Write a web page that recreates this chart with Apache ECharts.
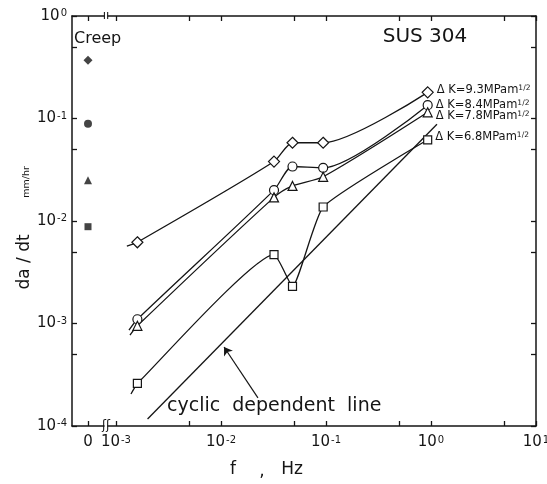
<!DOCTYPE html>
<html>
<head>
<meta charset="utf-8">
<script src="https://cdn.jsdelivr.net/npm/echarts@6/dist/echarts.min.js"></script>
<style>
html, body { margin: 0; padding: 0; background: #fff; }
#chart { width: 547px; height: 484px; }
</style>
</head>
<body>
<div id="chart"></div>
<script>
// test frequencies (Hz) of the cyclic tests
var freqs = [0.0016, 0.032, 0.048, 0.094, 0.93];
// da/dt (mm/hr) for each dK level
var dk93 = [0.0062, 0.038, 0.058, 0.058, 0.18];
var dk84 = [0.0011, 0.020, 0.034, 0.033, 0.135];
var dk78 = [0.00095, 0.017, 0.022, 0.027, 0.115];
var dk68 = [0.00026, 0.0047, 0.0023, 0.0137, 0.062];
var dkNames = ['9.3', '8.4', '7.8', '6.8'];
// where each hand drawn curve starts (left end)
var tailF = [0.00127, 0.00133, 0.00136, 0.00139];
var tailY = [0.0057, 0.00086, 0.00077, 0.000205];
// creep (f = 0) rates, same order as dkNames
var creepY = [0.37, 0.089, 0.025, 0.0088];
// cyclic dependent line end points and its arrow
var cyclicF = [0.002, 1.14];
var cyclicY = [0.000117, 0.088];
var arrowF = [0.0225, 0.0107];
var arrowY = [0.000188, 0.00059];
// ticks
var xTicks = [1e-3, 5e-3, 1e-2, 5e-2, 0.1, 0.5, 1, 5, 10];
var xLabels = [1e-3, 1e-2, 0.1, 1, 10];
var yTicks = [1e-4, 5e-4, 1e-3, 5e-3, 1e-2, 5e-2, 0.1, 0.5, 1];
var yLabels = [1e-4, 1e-3, 1e-2, 0.1, 1];

var ink = '#151515';
var font = 'DejaVu Sans';

var myChart = echarts.init(document.getElementById('chart'));

function powLabel(v) {
    var e = Math.round(Math.log10(v));
    return '{b|10}{s|' + e + '}';
}
var powRich = {
    b: { fontSize: 15, fontFamily: font, color: ink },
    s: { fontSize: 10, fontFamily: font, color: ink, verticalAlign: 'top', padding: [0, 0, 0, 1] }
};

function line() {
    return { show: true, onZero: false, lineStyle: { color: ink, width: 1.5 } };
}

function tick(vals) {
    return { show: true, inside: true, length: 5, lineStyle: { color: ink, width: 1.3 }, customValues: vals };
}

function curve(idx, ys, sym, size, offset, smooth) {
    var data = [{ value: [tailF[idx], tailY[idx]], symbol: 'none' }];
    for (var i = 0; i < freqs.length; i++) {
        data.push([freqs[i], ys[i]]);
    }
    var last = data[data.length - 1];
    data[data.length - 1] = {
        value: last,
        label: {
            show: true,
            position: 'right',
            distance: 3,
            offset: offset,
            formatter: '{t|\u0394 K=' + dkNames[idx] + 'MPam}{s|1/2}',
            rich: {
                t: { fontSize: 11.5, fontFamily: font, color: ink },
                s: { fontSize: 7.5, fontFamily: font, color: ink, verticalAlign: 'top' }
            }
        }
    };
    return {
        type: 'line',
        xAxisIndex: 2,
        yAxisIndex: 1,
        smooth: smooth,
        data: data,
        symbol: sym,
        symbolSize: size,
        showAllSymbol: true,
        itemStyle: { color: '#fff', borderColor: ink, borderWidth: 1.2 },
        lineStyle: { color: ink, width: 1.3 },
        z: 3
    };
}

var creepSym = ['diamond', 'circle', 'triangle', 'rect'];
var creepSize = [9, 8, 8, 7];
var creepData = creepY.map(function (y, i) {
    return { value: [0, y], symbol: creepSym[i], symbolSize: creepSize[i] };
});

var option = {
    animation: false,
    backgroundColor: '#fff',
    grid: [
        { left: 72, width: 32, top: 16, bottom: 58, outerBoundsMode: 'none' },
        { left: 108, right: 11, top: 16, bottom: 58, outerBoundsMode: 'none' }
    ],
    xAxis: [
        {
            gridIndex: 0, type: 'value', min: -1, max: 1, position: 'bottom',
            axisLine: line(), axisTick: tick([0]), splitLine: { show: false },
            axisLabel: { customValues: [0], formatter: '0', fontSize: 15, fontFamily: font, color: ink, margin: 9 }
        },
        {
            gridIndex: 0, type: 'value', min: -1, max: 1, position: 'top',
            axisLine: line(), axisTick: tick([0]), splitLine: { show: false }, axisLabel: { show: false }
        },
        {
            gridIndex: 1, type: 'log', logBase: 10, min: 0.00084, max: 10, position: 'bottom',
            axisLine: line(), axisTick: tick(xTicks), splitLine: { show: false },
            axisLabel: { customValues: xLabels, formatter: powLabel, rich: powRich, margin: 9 }
        },
        {
            gridIndex: 1, type: 'log', logBase: 10, min: 0.00084, max: 10, position: 'top',
            axisLine: line(), axisTick: tick(xTicks), splitLine: { show: false }, axisLabel: { show: false }
        }
    ],
    yAxis: [
        {
            gridIndex: 0, type: 'log', logBase: 10, min: 1e-4, max: 1, position: 'left',
            axisLine: line(), axisTick: tick(yTicks), splitLine: { show: false },
            axisLabel: { customValues: yLabels, formatter: powLabel, rich: powRich, margin: 5 }
        },
        {
            gridIndex: 1, type: 'log', logBase: 10, min: 1e-4, max: 1, position: 'right',
            axisLine: line(), axisTick: tick(yTicks), splitLine: { show: false }, axisLabel: { show: false }
        }
    ],
    series: [
        curve(0, dk93, 'diamond', 11, [0, -2], 0.25),
        curve(1, dk84, 'circle', 9, [0, 0], 0.25),
        curve(2, dk78, 'triangle', 9, [0, 4], 0.25),
        curve(3, dk68, 'rect', 8, [0, -3], 0.15),
        {
            type: 'line', xAxisIndex: 2, yAxisIndex: 1, symbol: 'none',
            data: [[cyclicF[0], cyclicY[0]], [cyclicF[1], cyclicY[1]]],
            lineStyle: { color: ink, width: 1.3 }
        },
        {
            type: 'lines', coordinateSystem: 'cartesian2d', xAxisIndex: 2, yAxisIndex: 1,
            symbol: ['none', 'arrow'], symbolSize: 8,
            data: [{ coords: [[arrowF[0], arrowY[0]], [arrowF[1], arrowY[1]]] }],
            lineStyle: { color: ink, width: 1.2, opacity: 1 }
        },
        {
            type: 'scatter', xAxisIndex: 0, yAxisIndex: 0,
            data: creepData, itemStyle: { color: ink }
        }
    ],
    graphic: [
        { type: 'text', left: 74, top: 31, style: { text: 'Creep', fontSize: 16, fontFamily: font, fill: ink } },
        { type: 'text', x: 425, y: 37, style: { text: 'SUS 304', fontSize: 20, fontFamily: font, fill: ink, align: 'center', verticalAlign: 'middle' } },
        { type: 'text', x: 167, y: 406, style: { text: 'cyclic  dependent  line', fontSize: 19, fontFamily: font, fill: ink, verticalAlign: 'middle' } },
        { type: 'text', x: 25, y: 262, rotation: Math.PI / 2, style: { text: 'da / dt', fontSize: 17, fontFamily: font, fill: ink, align: 'center', verticalAlign: 'middle' } },
        { type: 'text', x: 27, y: 182, rotation: Math.PI / 2, style: { text: 'mm/hr', fontSize: 9.5, fontFamily: font, fill: ink, align: 'center', verticalAlign: 'middle' } },
        { type: 'text', x: 233, y: 470, style: { text: 'f', fontSize: 17, fontFamily: font, fill: ink, align: 'center', verticalAlign: 'middle' } },
        { type: 'text', x: 262, y: 472, style: { text: ',', fontSize: 17, fontFamily: font, fill: ink, align: 'center', verticalAlign: 'middle' } },
        { type: 'text', x: 292, y: 470, style: { text: 'Hz', fontSize: 17, fontFamily: font, fill: ink, align: 'center', verticalAlign: 'middle' } },
        { type: 'text', x: 106, y: 426, style: { text: '\u0283\u0283', fontSize: 12, fontFamily: font, fill: ink, align: 'center', verticalAlign: 'middle' } },
        { type: 'text', x: 106, y: 16, style: { text: '\u0131\u0131', fontSize: 12, fontFamily: font, fill: ink, align: 'center', verticalAlign: 'middle' } }
    ]
};

myChart.setOption(option);
</script>
</body>
</html>
